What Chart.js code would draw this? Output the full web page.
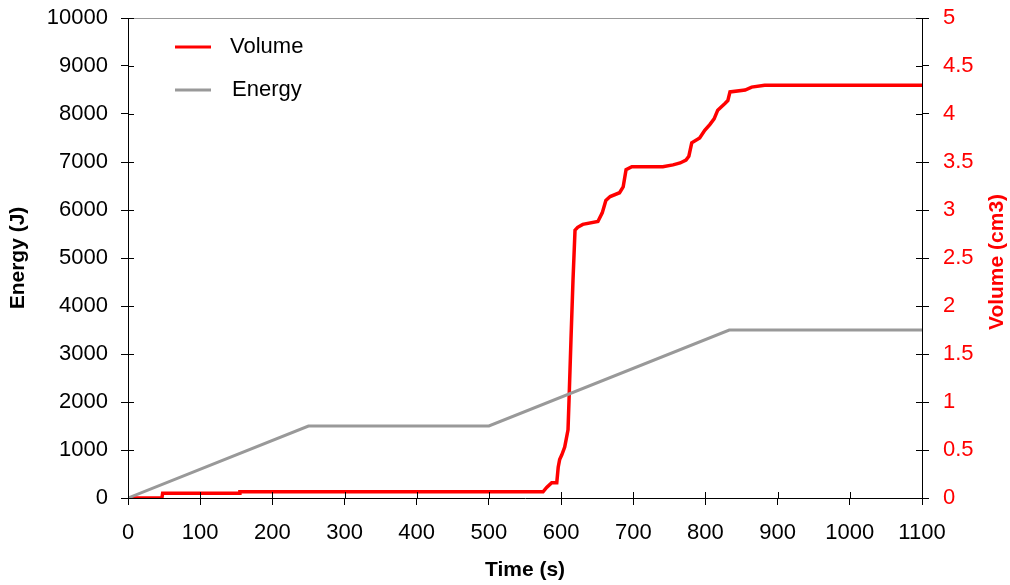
<!DOCTYPE html>
<html>
<head>
<meta charset="utf-8">
<script src="https://cdn.jsdelivr.net/npm/chart.js@4.4.0/dist/chart.umd.min.js"></script>
<style>
  html, body { margin: 0; padding: 0; background: #fff; }
  #wrap { width: 1010px; height: 585px; }
</style>
</head>
<body>
<div id="wrap"><canvas id="chart" width="1010" height="585"></canvas></div>
<script>
// Données
var energyTime = [0, 250, 500, 833, 1100];
var energyValue = [0, 1500, 1500, 3500, 3500];

var volumeTime = [0, 47, 48, 154, 155, 575, 580, 587, 594, 596, 598, 601, 605, 609.6, 611, 613.7, 616.5, 619.3,
  623, 630, 651, 657, 662, 668, 681, 686, 690, 698, 741, 755, 765, 773, 777, 781, 792, 799, 806, 812, 817,
  827, 831, 834, 855, 864, 882, 1100];
var volumeValue = [0, 0, 0.05, 0.05, 0.065, 0.065, 0.11, 0.16, 0.16, 0.32, 0.40, 0.45, 0.53, 0.71, 1.02, 1.65, 2.27, 2.79,
  2.82, 2.85, 2.88, 2.97, 3.1, 3.14, 3.18, 3.24, 3.42, 3.45, 3.45, 3.47, 3.49, 3.52, 3.56, 3.70, 3.75, 3.83, 3.89, 3.95, 4.04,
  4.11, 4.14, 4.23, 4.25, 4.28, 4.30, 4.30];

var timeTicks = [0, 100, 200, 300, 400, 500, 600, 700, 800, 900, 1000, 1100];
var energyTicks = [0, 1000, 2000, 3000, 4000, 5000, 6000, 7000, 8000, 9000, 10000];
var volumeTicks = [0, 0.5, 1, 1.5, 2, 2.5, 3, 3.5, 4, 4.5, 5];

var FONT = 'Liberation Sans, Arial, sans-serif';

function toPoints(xs, ys) {
  var pts = [];
  for (var i = 0; i < xs.length; i++) {
    pts.push({ x: xs[i], y: ys[i] });
  }
  return pts;
}

function setTicks(list) {
  return function(scale) {
    scale.ticks = list.map(function(v) { return { value: v }; });
  };
}

// fixer la taille des axes, sans marge pour les étiquettes
function fixSize(w, h) {
  return function(scale) {
    if (w) scale.width = w;
    if (h) scale.height = h;
    scale.paddingTop = 0;
    scale.paddingBottom = 0;
    scale.paddingLeft = 0;
    scale.paddingRight = 0;
  };
}

// ticks vers l'intérieur, bordure du haut, légende, titre de droite
var extras = {
  id: 'extras',
  afterDraw: function(chart) {
    var ctx = chart.ctx;
    var a = chart.chartArea;
    var sx = chart.scales.x, sy = chart.scales.y, sy1 = chart.scales.y1;
    ctx.save();
    ctx.strokeStyle = '#999';
    ctx.lineWidth = 1;
    ctx.beginPath();
    ctx.moveTo(a.left, a.top + 0.5);
    ctx.lineTo(a.right, a.top + 0.5);
    ctx.stroke();

    ctx.strokeStyle = '#000';
    ctx.beginPath();
    timeTicks.forEach(function(v) {
      var px = Math.round(sx.getPixelForValue(v)) + 0.5;
      ctx.moveTo(px, a.bottom);
      ctx.lineTo(px, a.bottom - 6);
    });
    energyTicks.forEach(function(v) {
      var py = Math.round(sy.getPixelForValue(v)) + 0.5;
      ctx.moveTo(a.left, py);
      ctx.lineTo(a.left + 6, py);
    });
    volumeTicks.forEach(function(v) {
      var py = Math.round(sy1.getPixelForValue(v)) + 0.5;
      ctx.moveTo(a.right, py);
      ctx.lineTo(a.right - 6, py);
    });
    ctx.stroke();

    // légende
    var items = [
      { label: 'Volume', color: '#ff0000', y: 47, tx: 230 },
      { label: 'Energy', color: '#999999', y: 90, tx: 232 }
    ];
    ctx.font = '22px ' + FONT;
    ctx.textBaseline = 'middle';
    ctx.textAlign = 'left';
    items.forEach(function(it) {
      ctx.strokeStyle = it.color;
      ctx.lineWidth = 3;
      ctx.beginPath();
      ctx.moveTo(175, it.y);
      ctx.lineTo(211, it.y);
      ctx.stroke();
      ctx.fillStyle = '#000';
      ctx.fillText(it.label, it.tx, it.y);
    });

    // titre de l'axe de droite
    ctx.translate(997, (a.top + a.bottom) / 2 + 4);
    ctx.rotate(-Math.PI / 2);
    ctx.font = 'bold 21px ' + FONT;
    ctx.fillStyle = '#ff0000';
    ctx.textAlign = 'center';
    ctx.fillText('Volume (cm3)', 0, 0);
    ctx.restore();
  }
};

new Chart(document.getElementById('chart').getContext('2d'), {
  type: 'line',
  data: {
    datasets: [{
      label: 'Energy',
      data: toPoints(energyTime, energyValue),
      borderColor: '#999999',
      borderWidth: 3,
      pointRadius: 0,
      yAxisID: 'y'
    }, {
      label: 'Volume',
      data: toPoints(volumeTime, volumeValue),
      borderColor: '#ff0000',
      borderWidth: 3.5,
      pointRadius: 0,
      yAxisID: 'y1'
    }]
  },
  options: {
    responsive: false,
    animation: false,
    layout: { padding: { top: 18, left: 0, right: 0, bottom: 0 } },
    plugins: { legend: { display: false }, tooltip: { enabled: false } },
    scales: {
      x: {
        type: 'linear',
        min: 0,
        max: 1100,
        afterBuildTicks: setTicks(timeTicks),
        afterFit: fixSize(0, 87),
        grid: { drawOnChartArea: false, tickLength: 7, color: '#000' },
        border: { color: '#000' },
        ticks: { color: '#000', font: { family: FONT, size: 22 }, padding: 15, maxRotation: 0,
          callback: function(v) { return String(v); } },
        title: { display: true, text: 'Time (s)', color: '#000',
          font: { family: FONT, size: 21, weight: 'bold' }, padding: { top: 0, bottom: 2 } }
      },
      y: {
        position: 'left',
        min: 0,
        max: 10000,
        afterBuildTicks: setTicks(energyTicks),
        afterFit: fixSize(128, 0),
        grid: { drawOnChartArea: false, tickLength: 7, color: '#000' },
        border: { color: '#000' },
        ticks: { color: '#000', font: { family: FONT, size: 22 }, padding: 13,
          callback: function(v) { return String(v); } },
        title: { display: true, text: 'Energy (J)', color: '#000',
          font: { family: FONT, size: 21, weight: 'bold' }, padding: { top: 6, bottom: 0 } }
      },
      y1: {
        position: 'right',
        min: 0,
        max: 5,
        afterBuildTicks: setTicks(volumeTicks),
        afterFit: fixSize(88, 0),
        grid: { drawOnChartArea: false, tickLength: 7, color: '#000' },
        border: { color: '#000' },
        ticks: { color: '#ff0000', font: { family: FONT, size: 22 }, padding: 14,
          callback: function(v) { return String(v); } }
      }
    }
  },
  plugins: [extras]
});
</script>
</body>
</html>
